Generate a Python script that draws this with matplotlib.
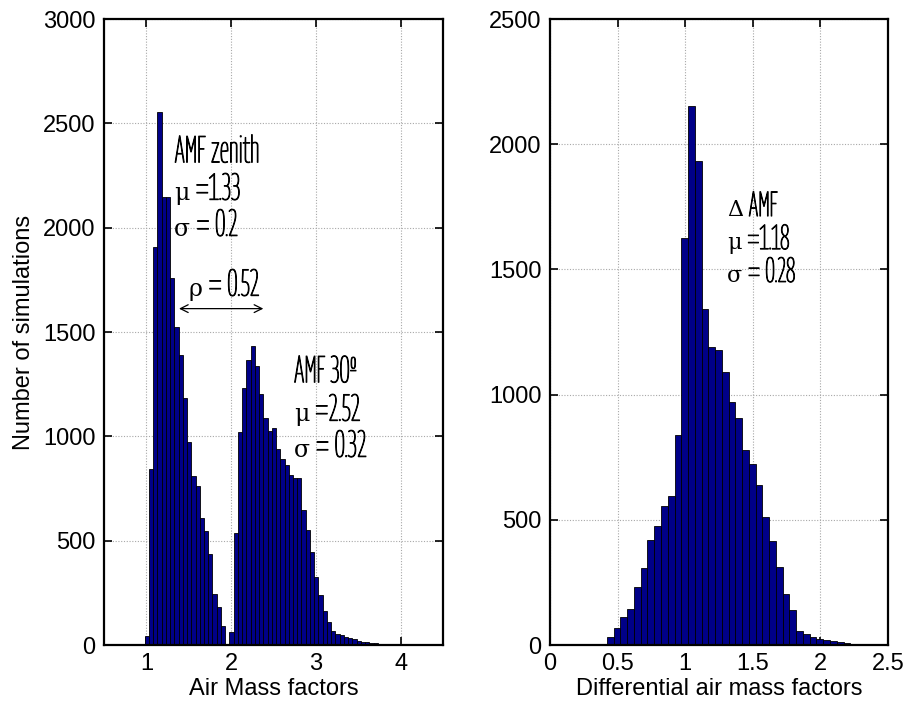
import numpy as np
import matplotlib
matplotlib.use("Agg")
import matplotlib.pyplot as plt
import matplotlib.patheffects as pe
from matplotlib import font_manager as fm
from matplotlib.textpath import TextPath
from matplotlib.transforms import offset_copy

# ---------------- data ----------------
# Left panel: histogram of air mass factors (zenith + 30 deg), bin width 0.05
amf_bin_start = 0.98
amf_bin_width = 0.05
amf_counts = [
    43, 843, 1908, 2556, 2148, 2148, 1761, 1524, 1388, 1184,
    974, 811, 763, 611, 547, 435, 243, 182, 91, 0,
    64, 536, 1019, 1234, 1367, 1434, 1338, 1202, 1090, 1026,
    1042, 941, 893, 861, 814, 801, 801, 646, 553, 444,
    325, 239, 165, 111, 69, 53, 48, 40, 32, 27,
    21, 16, 13, 11, 8, 5, 4, 3, 2, 1, 1,
]

# Right panel: histogram of differential air mass factors
damf_bin_start = 0.421
damf_bin_width = 0.05
damf_counts = [
    31, 68, 111, 145, 231, 308, 419, 475, 557, 597,
    840, 1624, 2151, 1931, 1343, 1192, 1180, 1090, 972, 905,
    779, 723, 638, 513, 414, 311, 202, 138, 55, 45,
    32, 23, 19, 15, 11, 7, 3,
]

left_xticks = [1, 2, 3, 4]
left_yticks = [0, 500, 1000, 1500, 2000, 2500, 3000]
right_xticks = [0, 0.5, 1, 1.5, 2, 2.5]
right_xticklabels = ["0", "0.5", "1", "1.5", "2", "2.5"]
right_yticks = [0, 500, 1000, 1500, 2000, 2500]

# statistics labels: (greek symbol, remainder)
zenith_title = "AMF zenith"
zenith_mu = ("\u03bc", " =1.33")
zenith_sigma = ("\u03c3", " = 0.2")
slant_title = "AMF 30\u00ba"
slant_mu = ("\u03bc", " =2.52")
slant_sigma = ("\u03c3", " = 0.32")
diff_title = ("\u0394", " AMF")
diff_mu = ("\u03bc", " =1.18")
diff_sigma = ("\u03c3", " = 0.28")
rho_label = ("\u03c1", " = 0.52")

# ---------------- fonts ----------------
plt.rcParams["font.family"] = ["Liberation Sans", "DejaVu Sans"]
plt.rcParams["font.size"] = 17


def narrowest_face():
    """Installed upright condensed sans face with the narrowest 'AMF zenith'."""
    best = None
    seen = set()
    for f in fm.fontManager.ttflist:
        tag = (f.name + " " + f.fname).lower()
        if f.style != "normal" or f.fname in seen:
            continue
        if "mono" in tag or "cjk" in tag or "serif" in tag.replace("sans", ""):
            continue
        if not ("narrow" in tag or "condensed" in tag
                or str(f.stretch) in ("condensed", "semi-condensed",
                                      "extra-condensed", "ultra-condensed")):
            continue
        if "bold" in tag or "thin" in tag or "black" in tag:
            continue
        seen.add(f.fname)
        try:
            fp = fm.FontProperties(fname=f.fname)
            w = TextPath((0, 0), "AMF zenith", size=10, prop=fp).get_extents().width
            h = TextPath((0, 0), "M", size=10, prop=fp).get_extents().height
        except Exception:
            continue
        ratio = w / h
        if best is None or ratio < best[0]:
            best = (ratio, f)
    return None if best is None else best[1]


face = narrowest_face()
if face is not None:
    ann_font = dict(family=[face.name, "DejaVu Sans"], stretch=face.stretch,
                    weight=face.weight, style="normal")
else:
    ann_font = dict(family=["Liberation Sans", "DejaVu Sans"])
ann_effects = [pe.withStroke(linewidth=0.7, foreground="black")]
sym_font = dict(family=["DejaVu Serif", "DejaVu Sans"])

BAR_FACE = "#000088"
GRID_KW = dict(color="#a8a8a8", linestyle=(0, (1, 1.5)), linewidth=0.8)

fig = plt.figure(figsize=(9.09, 7.04), dpi=100)
ax1 = fig.add_axes([104 / 909, 59 / 704, 339 / 909, 626 / 704])
ax2 = fig.add_axes([550 / 909, 59 / 704, 338 / 909, 626 / 704])


def draw_hist(ax, start, width, counts):
    edges = start + width * np.arange(len(counts))
    ax.bar(edges, counts, width=width, align="edge", color=BAR_FACE,
           edgecolor="black", linewidth=0.6, zorder=2)


def style(ax):
    ax.set_axisbelow(True)
    ax.grid(True, **GRID_KW)
    ax.tick_params(direction="in", top=True, right=True, length=6,
                   width=1.2, labelsize=17, pad=6)
    for sp in ax.spines.values():
        sp.set_linewidth(1.6)


draw_hist(ax1, amf_bin_start, amf_bin_width, amf_counts)
ax1.set_xlim(0.5, 4.5)
ax1.set_ylim(0, 3000)
ax1.set_xticks(left_xticks)
ax1.set_yticks(left_yticks)
style(ax1)
ax1.set_xlabel("Air Mass factors", fontsize=17, labelpad=2)
ax1.set_ylabel("Number of simulations", fontsize=17, labelpad=6)

draw_hist(ax2, damf_bin_start, damf_bin_width, damf_counts)
ax2.set_xlim(0, 2.5)
ax2.set_ylim(0, 2500)
ax2.set_xticks(right_xticks)
ax2.set_xticklabels(right_xticklabels)
ax2.set_yticks(right_yticks)
style(ax2)
ax2.set_xlabel("Differential air mass factors", fontsize=17, labelpad=2)

renderer = fig.canvas.get_renderer()

# annotation size chosen so the "AMF zenith" line is ~108 px wide
t0 = ax1.text(1.33, 2313, zenith_title, va="baseline", ha="left",
              fontsize=20, path_effects=ann_effects, **ann_font)
ann_size = min(27, 20 * 108 / t0.get_window_extent(renderer).width)
t0.set_fontsize(ann_size)


def plain(ax, x, y, text, size):
    return ax.text(x, y, text, va="baseline", ha="left", fontsize=size,
                   path_effects=ann_effects, **ann_font)


def greek_line(ax, x, y, parts, size, sym_size):
    sym, rest = parts
    s = ax.text(x, y, sym, va="baseline", ha="left", fontsize=sym_size,
                **sym_font)
    w = s.get_window_extent(renderer).width
    tr = offset_copy(ax.transData, fig=fig, x=w, y=0, units="dots")
    ax.text(x, y, rest, transform=tr, va="baseline", ha="left",
            fontsize=size, path_effects=ann_effects, **ann_font)


SYM = 17
greek_line(ax1, 1.33, 2134, zenith_mu, ann_size, SYM)
greek_line(ax1, 1.33, 1961, zenith_sigma, ann_size, SYM)
greek_line(ax1, 1.50, 1674, rho_label, ann_size, SYM)
plain(ax1, 2.74, 1259, slant_title, ann_size)
greek_line(ax1, 2.74, 1075, slant_mu, ann_size, SYM)
greek_line(ax1, 2.74, 902, slant_sigma, ann_size, SYM)

right_size = ann_size * 0.93
greek_line(ax2, 1.31, 1713, diff_title, right_size, SYM - 1)
greek_line(ax2, 1.31, 1581, diff_mu, right_size, SYM - 1)
greek_line(ax2, 1.31, 1450, diff_sigma, right_size, SYM - 1)

ax1.annotate("", xy=(1.385, 1612), xytext=(2.38, 1612),
             arrowprops=dict(arrowstyle="<->", color="black", lw=0.9,
                             shrinkA=0, shrinkB=0, mutation_scale=14))

fig.savefig("out.png", dpi=100)
